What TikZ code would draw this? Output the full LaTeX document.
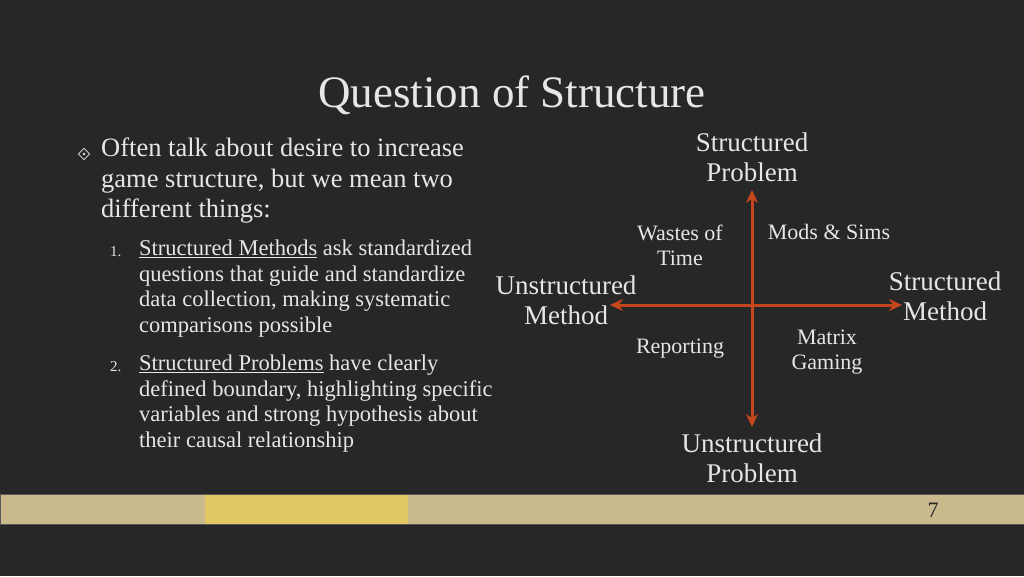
\documentclass[tikz,border=0pt]{standalone}
\usepackage{fontspec}
\setmainfont{Liberation Serif}
\usetikzlibrary{arrows.meta}
\definecolor{bgdark}{HTML}{272727}
\definecolor{axisred}{HTML}{C4461C}
\definecolor{bartan}{HTML}{C9B98C}
\definecolor{baryellow}{HTML}{E2C964}
\definecolor{txtlight}{HTML}{E6E6E6}
\tikzset{
  axis/.style={axisred, line width=3pt, {Stealth[length=13pt,width=12pt]}-{Stealth[length=13pt,width=12pt]}},
  quadlabel/.style={text=txtlight, font=\fontsize{22}{25}\selectfont, align=center},
  endlabel/.style={text=txtlight, font=\fontsize{27}{30}\selectfont, align=center},
  bodytext/.style={text=txtlight, anchor=north west, align=left, inner sep=0pt},
}
\begin{document}
\begin{tikzpicture}[x=1pt,y=-1pt]
  \fill[bgdark] (0,0) rectangle (1024,576);
  \useasboundingbox (0,0) rectangle (1024,576);
  % bottom bar
  \fill[bartan] (0,494) rectangle (1024,524);
  \fill[baryellow] (205,494) rectangle (408,524);
  \draw[gray!70!black, line width=0.8pt] (0,494) rectangle (1024,524);
  \node[text=black!85, font=\fontsize{22}{24}\selectfont] (pagenum) at (933,510) {7};
  % title
  \node[text=txtlight, font=\fontsize{45}{48}\selectfont] (title) at (512,95) {Question of Structure};
  % bullet text
  \node[draw=txtlight, line width=0.8pt, shape=rectangle, rotate=45, minimum size=8pt, inner sep=0pt] (bullet) at (84,154) {};
  \fill[txtlight] (bullet.center) circle (1.3pt);
  \node[bodytext, font=\fontsize{26.5}{30.5}\selectfont] (intro) at (101,138)
    {Often talk about desire to increase\\game structure, but we mean two\\different things:};
  \node[bodytext, font=\fontsize{15}{18}\selectfont] (num1) at (110,246) {1.};
  \node[bodytext, font=\fontsize{22.5}{25.5}\selectfont] (item1) at (139,240)
    {\underline{Structured Methods} ask standardized\\questions that guide and standardize\\data collection, making systematic\\comparisons possible};
  \node[bodytext, font=\fontsize{15}{18}\selectfont] (num2) at (110,361) {2.};
  \node[bodytext, font=\fontsize{22.5}{25.5}\selectfont] (item2) at (139,355)
    {\underline{Structured Problems} have clearly\\defined boundary, highlighting specific\\variables and strong hypothesis about\\their causal relationship};
  % axes
  \coordinate (top) at (752,190);
  \coordinate (bottom) at (752,427);
  \coordinate (left) at (610,305);
  \coordinate (right) at (902,305);
  \draw[axis] (bottom) -- (top);
  \draw[axis] (left) -- (right);
  \node[endlabel] (sprob) at (752,157) {Structured\\Problem};
  \node[endlabel] (uprob) at (752,458) {Unstructured\\Problem};
  \node[endlabel] (umeth) at (566,300) {Unstructured\\Method};
  \node[endlabel] (smeth) at (945,296) {Structured\\Method};
  \node[quadlabel] (waste) at (680,245) {Wastes of\\Time};
  \node[quadlabel] (mods) at (829,232) {Mods \& Sims};
  \node[quadlabel] (report) at (680,349) {Reporting};
  \node[quadlabel] (matrix) at (827,352) {Matrix\\Gaming};
\end{tikzpicture}
\end{document}
